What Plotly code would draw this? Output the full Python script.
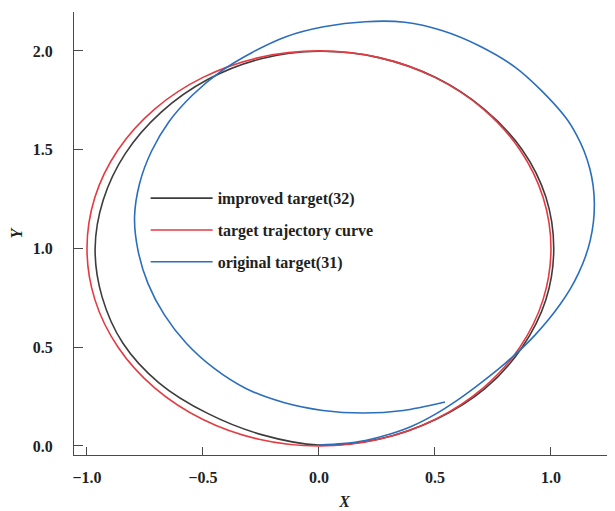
import plotly.graph_objects as go

# improved target(32)
improved_x = [0.0, 0.26, 0.505, 0.715, 0.876, 0.978, 1.012, 0.978, 0.876, 0.712, 0.503, 0.258, 0.0,
              -0.25, -0.48, -0.68, -0.835, -0.93, -0.965, -0.935, -0.845, -0.69, -0.48, -0.24, 0.0]
improved_y = [0.005, 0.035, 0.135, 0.29, 0.5, 0.74, 1.0, 1.26, 1.5, 1.705, 1.865, 1.966, 1.998,
              1.96, 1.855, 1.69, 1.48, 1.245, 1.0, 0.755, 0.52, 0.32, 0.165, 0.055, 0.005]

# target trajectory curve
target_x = [0.0, 0.259, 0.5, 0.707, 0.866, 0.966, 1.0, 0.966, 0.866, 0.707, 0.5, 0.259, 0.0,
            -0.259, -0.5, -0.707, -0.866, -0.966, -1.0, -0.966, -0.866, -0.707, -0.5, -0.259, 0.0]
target_y = [0.0, 0.034, 0.134, 0.293, 0.5, 0.741, 1.0, 1.259, 1.5, 1.707, 1.866, 1.966, 2.0,
            1.966, 1.866, 1.707, 1.5, 1.259, 1.0, 0.741, 0.5, 0.293, 0.134, 0.034, 0.0]

# original target(31)
original_x = [0.0, 0.1, 0.2, 0.3, 0.4, 0.5, 0.6, 0.67, 0.738, 0.805, 0.869, 0.93, 0.987, 1.039,
              1.082, 1.118, 1.148, 1.17, 1.183, 1.187, 1.182, 1.167, 1.143, 1.11, 1.065, 0.958,
              0.845, 0.69, 0.53, 0.37, 0.2, 0.02, -0.142, -0.29, -0.426, -0.545, -0.646, -0.722,
              -0.773, -0.795, -0.78, -0.737, -0.667, -0.572, -0.453, -0.313, -0.152, 0.017,
              0.19, 0.363, 0.543]
original_y = [0.005, 0.012, 0.028, 0.058, 0.1, 0.16, 0.235, 0.2945, 0.356, 0.421, 0.488, 0.56, 0.636,
              0.716, 0.793, 0.873, 0.957, 1.045, 1.134, 1.225, 1.316, 1.406, 1.4925, 1.575, 1.66,
              1.8, 1.918, 2.026, 2.103, 2.145, 2.148, 2.122, 2.072, 1.991, 1.894, 1.777, 1.643,
              1.492, 1.33, 1.16, 0.989, 0.822, 0.665, 0.52, 0.394, 0.29, 0.22, 0.18,
              0.167, 0.18, 0.223]

x_ticks = [-1.0, -0.5, 0.0, 0.5, 1.0]
y_ticks = [0.0, 0.5, 1.0, 1.5, 2.0]

FONT = "Liberation Serif"
TXT = "#231f20"

fig = go.Figure()
fig.add_trace(go.Scatter(x=improved_x, y=improved_y, mode="lines", name="<b>improved target(32)</b>",
                         line=dict(color="#3d3d3d", width=1.6, shape="spline"), legendgroup="a"))
fig.add_trace(go.Scatter(x=target_x, y=target_y, mode="lines", name="<b>target trajectory curve</b>",
                         line=dict(color="#e63a42", width=1.6, shape="spline"), legendgroup="b"))
fig.add_trace(go.Scatter(x=original_x, y=original_y, mode="lines", name="<b>original target(31)</b>",
                         line=dict(color="#2a6ebd", width=1.6, shape="spline", smoothing=0.8),
                         legendgroup="c"))

axis_common = dict(showgrid=False, zeroline=False, showline=True, linecolor="#4a4a4a", linewidth=1.2,
                   ticks="inside", tickcolor="#4a4a4a", tickwidth=1.2, automargin=False,
                   tickfont=dict(family=FONT, size=16, color=TXT, weight="bold"), tickformat=".1f")

# the page body adds an 8px offset, margins compensate for it
fig.update_layout(
    width=615, height=511,
    margin=dict(l=66, r=8, t=4, b=64),
    paper_bgcolor="white", plot_bgcolor="white",
    showlegend=True,
    legend=dict(x=0.1324, y=0.618, xanchor="left", yanchor="top", bgcolor="rgba(0,0,0,0)",
                font=dict(family=FONT, size=16, color=TXT), traceorder="grouped",
                tracegroupgap=8, itemwidth=62),
    xaxis=dict(range=[-1.056, 1.276], tickvals=x_ticks, ticklen=8, ticklabelstandoff=8,
               title=dict(text="<b><i>X</i></b>", font=dict(family=FONT, size=16, color=TXT), standoff=10),
               **axis_common),
    yaxis=dict(range=[-0.0456, 2.197], tickvals=y_ticks, ticklen=9, ticklabelstandoff=17,
               title=dict(text="<b><i>Y</i></b>", font=dict(family=FONT, size=16, color=TXT), standoff=10),
               **axis_common),
)

fig.write_html("out.html")
